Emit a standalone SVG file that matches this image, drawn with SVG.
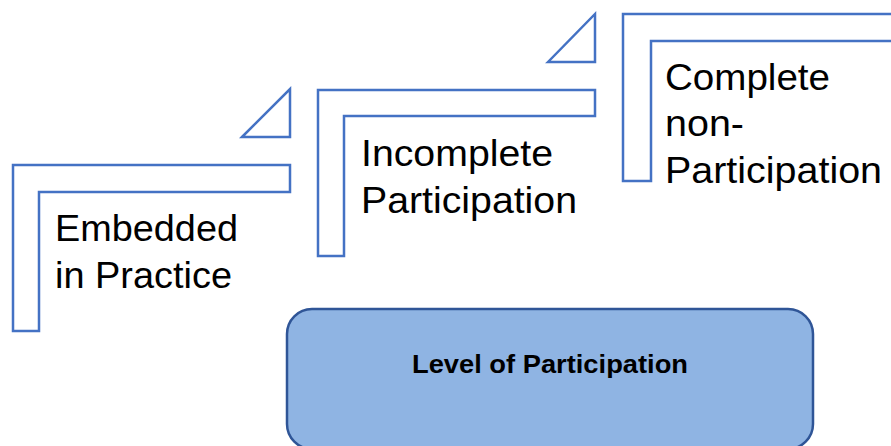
<svg xmlns="http://www.w3.org/2000/svg" width="891" height="446" viewBox="0 0 891 446">
  <style>
    .step { fill: #FFFFFF; stroke: #4472C4; stroke-width: 2.5; stroke-linejoin: miter; }
    .tri { fill: #FFFFFF; stroke: #4472C4; stroke-width: 2.5; stroke-linejoin: miter; }
    .lbl { font-family: "Liberation Sans", Arial, sans-serif; font-size: 37px; fill: #000000; }
    .main { fill: #8FB4E3; stroke: #2F5597; stroke-width: 2.5; }
    .mainlbl { font-family: "Liberation Sans", Arial, sans-serif; font-size: 25px; font-weight: bold; fill: #000000; }
  </style>
  <rect width="891" height="446" fill="#FFFFFF"/>
  <g id="connectors"></g>
  <g id="step1">
    <polygon class="step" points="13,165 290,165 290,192 39,192 39,331 13,331"/>
    <polygon class="tri" points="242,137 290,89 290,137"/>
    <text class="lbl" x="55" y="241" textLength="183" lengthAdjust="spacingAndGlyphs">Embedded</text>
    <text class="lbl" x="55" y="288" textLength="177" lengthAdjust="spacingAndGlyphs">in Practice</text>
  </g>
  <g id="step2">
    <polygon class="step" points="318,90 595,90 595,116 344,116 344,256 318,256"/>
    <polygon class="tri" points="548,62 595,14 595,62"/>
    <text class="lbl" x="361" y="166" textLength="192" lengthAdjust="spacingAndGlyphs">Incomplete</text>
    <text class="lbl" x="361" y="213" textLength="216" lengthAdjust="spacingAndGlyphs">Participation</text>
  </g>
  <g id="step3">
    <polygon class="step" points="623,14 900,14 900,41 651,41 651,181 623,181"/>
    <text class="lbl" x="665" y="90" textLength="165" lengthAdjust="spacingAndGlyphs">Complete</text>
    <text class="lbl" x="665" y="136" textLength="79" lengthAdjust="spacingAndGlyphs">non-</text>
    <text class="lbl" x="665" y="183" textLength="217" lengthAdjust="spacingAndGlyphs">Participation</text>
  </g>
  <g id="level">
    <rect class="main" x="287" y="309" width="526" height="140" rx="25" ry="25"/>
    <text class="mainlbl" x="412" y="373" textLength="276" lengthAdjust="spacingAndGlyphs">Level of Participation</text>
  </g>
</svg>
